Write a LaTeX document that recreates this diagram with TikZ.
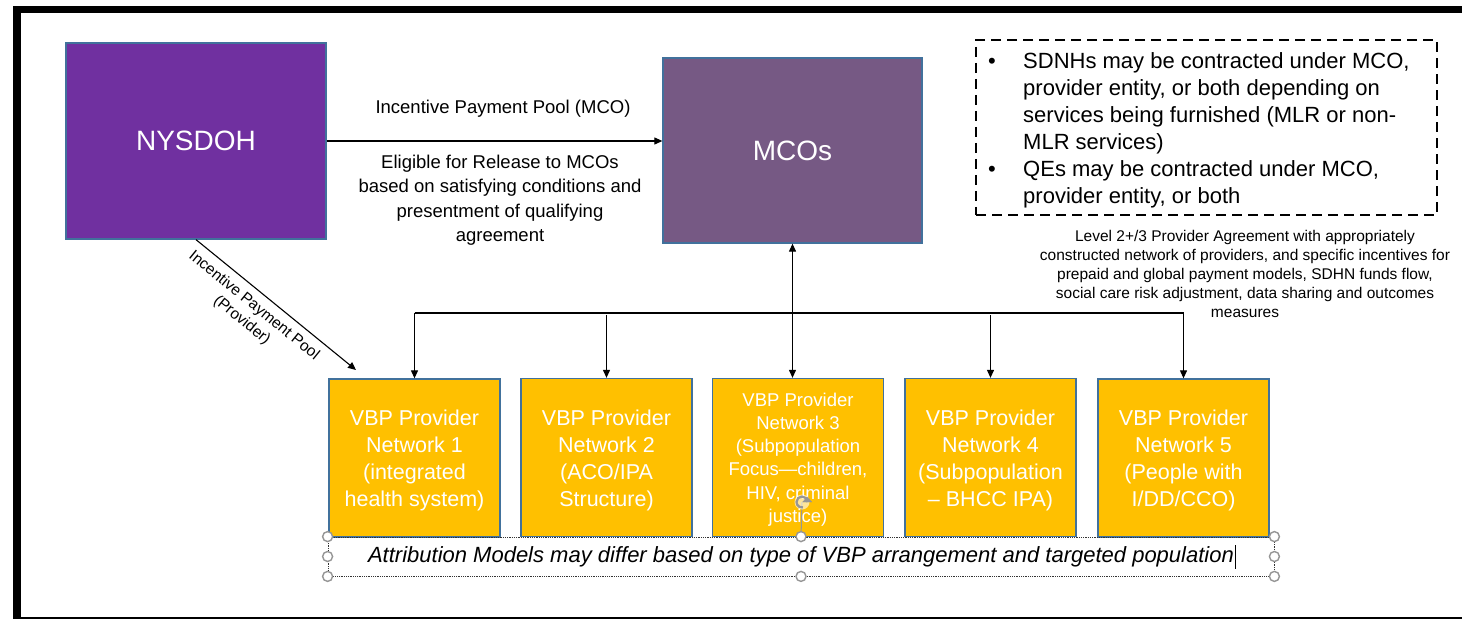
\documentclass[tikz,border=0pt]{standalone}
\usepackage{fontspec}
\setmainfont{Liberation Sans}
\usetikzlibrary{arrows.meta,calc}
\definecolor{nysPurple}{RGB}{112,48,160}
\definecolor{mcoPurple}{RGB}{118,89,132}
\definecolor{vbpYellow}{RGB}{255,192,0}
\definecolor{edgeBlue}{RGB}{65,113,156}
\definecolor{handleGray}{RGB}{150,150,150}
\begin{document}
\begin{tikzpicture}[x=1pt,y=-1pt,
  bigbox/.style={draw=edgeBlue, line width=1.3pt, inner sep=0pt, text=white, font=\fontsize{28}{32}\selectfont},
  vbp/.style={draw=edgeBlue, line width=1.3pt, fill=vbpYellow, minimum width=171pt, minimum height=158pt, inner sep=0pt},
  vbptext/.style={text=white, align=center, inner sep=0pt, font=\fontsize{21.5}{27}\selectfont},
  conn/.style={line width=1.1pt, -{Triangle[length=8pt,width=7pt]}},
  handle/.style={circle, draw=handleGray, line width=1.4pt, fill=white, minimum size=10pt, inner sep=0pt},
  lbl/.style={font=\fontsize{18.5}{24.5}\selectfont, align=center, inner sep=0pt},
  smalltext/.style={font=\fontsize{15.5}{19}\selectfont, align=center, inner sep=0pt},
  notetext/.style={font=\fontsize{22}{27}\selectfont, align=left, inner sep=0pt}
]
\useasboundingbox (0,0) rectangle (1462,620);
\fill[white] (0,0) rectangle (1462,620);
% frame
\fill[black] (13,6) rectangle (1462,13);
\fill[black] (13,6) rectangle (21,619);
\draw[black, line width=2pt] (21,618) -- (1462,618);

% main boxes
\node[bigbox, fill=nysPurple, minimum width=260pt, minimum height=196pt] (nys) at (196,141) {NYSDOH};
\node[bigbox, fill=mcoPurple, minimum width=259pt, minimum height=185pt] (mco) at (792.5,150.5) {MCOs};

\draw[conn] (nys.east) -- (mco.west |- nys.east);
\node[lbl] (lblTop) at (503,109) {Incentive Payment Pool (MCO)};
\node[lbl] (lblBot) at (500,200) {Eligible for Release to MCOs\\based on satisfying conditions and\\presentment of qualifying\\agreement};

% note box
\node[draw, line width=1.8pt, dash pattern=on 10pt off 6pt, minimum width=461pt, minimum height=175pt, inner sep=0pt] (note) at (1206.5,127.5) {};
\node[notetext, anchor=west] (noteA) at (1023,103) {SDNHs may be contracted under MCO,\\provider entity, or both depending on\\services being furnished (MLR or non-\\MLR services)};
\node[notetext, anchor=west] (noteB) at (1023,184.5) {QEs may be contracted under MCO,\\provider entity, or both};
\node[notetext] (bulA) at (992,63) {\textbullet};
\node[notetext] (bulB) at (992,171) {\textbullet};

\node[smalltext] (lvl) at (1245,274) {Level 2+/3 Provider Agreement with appropriately\\constructed network of providers, and specific incentives for\\prepaid and global payment models, SDHN funds flow,\\social care risk adjustment, data sharing and outcomes\\measures};

% VBP boxes
\node[vbp] (b1) at (414.5,458) {};
\node[vbptext] (b1t) at (414.5,460.5) {VBP Provider\\Network 1\\(integrated\\health system)};
\node[vbp] (b2) at (606.5,457.5) {};
\node[vbptext] (b2t) at (606.5,460) {VBP Provider\\Network 2\\(ACO/IPA\\Structure)};
\node[vbp] (b3) at (798,457.5) {};
\node[vbptext, font=\fontsize{18.5}{23.2}\selectfont] (b3t) at (798,459.5) {VBP Provider\\Network 3\\(Subpopulation\\Focus—children,\\HIV, criminal\\justice)};
\node[vbp] (b4) at (990.5,457.5) {};
\node[vbptext] (b4t) at (990.5,460) {VBP Provider\\Network 4\\(Subpopulation\\– BHCC IPA)};
\node[vbp] (b5) at (1183.5,458) {};
\node[vbptext] (b5t) at (1183.5,460.5) {VBP Provider\\Network 5\\(People with\\I/DD/CCO)};

% diagonal
\coordinate (diagEnd) at (356,370);
\draw[conn] (nys.south) -- node[smalltext, sloped, below=7pt, pos=0.42] (diagLbl) {Incentive Payment Pool\\(Provider)} (diagEnd);

% bus
\coordinate (busY) at (0,313);
\draw[line width=1.1pt] (b1.north |- busY) -- (b5.north |- busY);
\draw[conn] (b1.north |- busY) -- (b1.north);
\draw[conn] ($(b2.north |- busY)+(0,2)$) -- (b2.north);
\draw[line width=1.1pt, {Triangle[length=8pt,width=7pt]}-{Triangle[length=8pt,width=7pt]}] (mco.south) -- (mco.south |- b3.north);
\draw[conn] ($(b4.north |- busY)+(0,2)$) -- (b4.north);
\draw[conn] (b5.north |- busY) -- (b5.north);

% attribution text box
\node[draw=black!80, densely dotted, line width=0.8pt, minimum width=946pt, minimum height=39pt, inner sep=0pt] (attr) at (801,556.5) {};
\node[inner sep=0pt, font=\fontsize{22}{26}\selectfont\itshape] (attrText) at (801,557) {Attribution Models may differ based on type of VBP arrangement and targeted population};
\draw[black, line width=0.8pt] ([xshift=1.5pt,yshift=12pt]attrText.east) -- ([xshift=1.5pt,yshift=-12pt]attrText.east);

% selection handles
\draw[handleGray, line width=1pt] (attr.north) -- (802,502);
\node[handle] (h1) at (attr.north west) {};
\node[handle] (h2) at (attr.west) {};
\node[handle] (h3) at (attr.south west) {};
\node[handle] (h4) at (attr.north) {};
\node[handle] (h5) at (attr.south) {};
\node[handle] (h6) at (attr.north east) {};
\node[handle] (h7) at (attr.east) {};
\node[handle] (h8) at (attr.south east) {};
\node[circle, fill=white, fill opacity=0.6, minimum size=15pt, inner sep=0pt] (rot) at (802,502) {};
\draw[handleGray, line width=2.2pt] ([xshift=5.5pt]rot.center) arc[start angle=0, end angle=280, radius=5.5pt];
\draw[handleGray, fill=handleGray] ([xshift=2pt]rot.east) -- ([xshift=-7pt]rot.east) -- ([xshift=-2.5pt,yshift=5pt]rot.east) -- cycle;
\end{tikzpicture}
\end{document}
